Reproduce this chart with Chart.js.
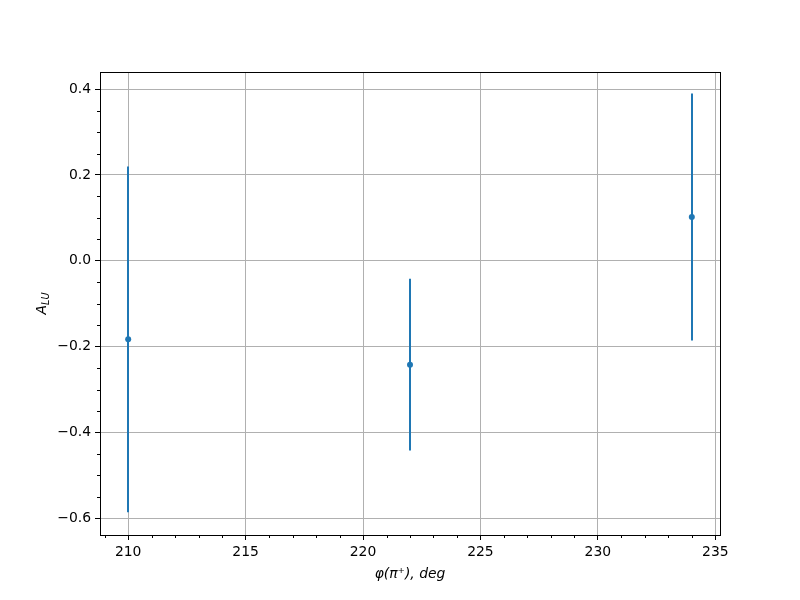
<!DOCTYPE html>
<html>
<head>
<meta charset="utf-8">
<script src="https://cdn.jsdelivr.net/npm/chart.js@4"></script>
<style>
  html, body { margin: 0; padding: 0; background: #fff; }
  #wrap { width: 800px; height: 600px; }
</style>
</head>
<body>
<div id="wrap"><canvas id="chart" width="800" height="600"></canvas></div>
<script>
// measured values
const xValues = [210, 222, 234];
const yValues = [-0.183, -0.242, 0.102];
const yErrors = [0.403, 0.2, 0.288];

const xTicks = [210, 215, 220, 225, 230, 235];
const yTicks = [-0.6, -0.4, -0.2, 0.0, 0.2, 0.4];
const xMinorTicks = [209, 211, 212, 213, 214, 216, 217, 218, 219, 221, 222, 223, 224,
  226, 227, 228, 229, 231, 232, 233, 234];
const yMinorTicks = [-0.55, -0.5, -0.45, -0.35, -0.3, -0.25, -0.15, -0.1, -0.05,
  0.05, 0.1, 0.15, 0.25, 0.3, 0.35];

const BLUE = '#1f77b4';
const FONT = "'DejaVu Sans', sans-serif";

function fmtY(v) {
  const s = Math.abs(v).toFixed(1);
  return v < -1e-9 ? '\u2212' + s : s;
}

// error bars, drawn under the markers
const errorBars = {
  id: 'errorBars',
  beforeDatasetsDraw(chart) {
    const { ctx, scales: { x, y } } = chart;
    ctx.save();
    ctx.strokeStyle = BLUE;
    ctx.lineWidth = 2;
    xValues.forEach((xv, i) => {
      const px = Math.round(x.getPixelForValue(xv));
      ctx.beginPath();
      ctx.moveTo(px, y.getPixelForValue(yValues[i] + yErrors[i]));
      ctx.lineTo(px, y.getPixelForValue(yValues[i] - yErrors[i]));
      ctx.stroke();
    });
    ctx.restore();
  }
};

// frame, minor ticks and axis titles
const frame = {
  id: 'frame',
  afterDraw(chart) {
    const { ctx, chartArea: a, scales: { x, y } } = chart;
    ctx.save();
    ctx.strokeStyle = '#000';
    ctx.lineWidth = 1;
    ctx.strokeRect(Math.round(a.left) + 0.5, Math.round(a.top) + 0.5,
      Math.round(a.right - a.left), Math.round(a.bottom - a.top));

    ctx.beginPath();
    xMinorTicks.forEach(v => {
      const px = Math.round(x.getPixelForValue(v)) + 0.5;
      ctx.moveTo(px, a.bottom);
      ctx.lineTo(px, a.bottom + 3);
    });
    yMinorTicks.forEach(v => {
      const py = Math.round(y.getPixelForValue(v)) + 0.5;
      ctx.moveTo(a.left, py);
      ctx.lineTo(a.left - 3, py);
    });
    ctx.stroke();

    ctx.fillStyle = '#000';
    ctx.textBaseline = 'middle';
    ctx.textAlign = 'center';
    ctx.font = 'italic 13.9px ' + FONT;
    ctx.fillText('\u03c6(\u03c0\u207a), deg', (a.left + a.right) / 2, 574);

    // y title: A with subscript LU
    ctx.translate(42, (a.top + a.bottom) / 2);
    ctx.rotate(-Math.PI / 2);
    ctx.textAlign = 'left';
    ctx.font = 'italic 13.9px ' + FONT;
    const wA = ctx.measureText('A').width;
    ctx.font = 'italic 9.7px ' + FONT;
    const wS = ctx.measureText('LU').width;
    const x0 = -(wA + wS) / 2;
    ctx.font = 'italic 13.9px ' + FONT;
    ctx.fillText('A', x0, 0);
    ctx.font = 'italic 9.7px ' + FONT;
    ctx.fillText('LU', x0 + wA, 4);
    ctx.restore();
  }
};

new Chart(document.getElementById('chart'), {
  type: 'scatter',
  data: {
    datasets: [{
      data: xValues.map((v, i) => ({ x: v, y: yValues[i] })),
      backgroundColor: BLUE,
      borderColor: BLUE,
      borderWidth: 0,
      pointRadius: 3,
      pointHoverRadius: 3
    }]
  },
  options: {
    responsive: false,
    animation: false,
    layout: { padding: { left: 0, top: 72, right: 80, bottom: 0 } },
    plugins: {
      legend: { display: false },
      tooltip: { enabled: false }
    },
    scales: {
      x: {
        type: 'linear',
        min: 208.8,
        max: 235.2,
        afterBuildTicks: s => { s.ticks = xTicks.map(v => ({ value: v })); },
        afterFit: s => { s.height = 65; },
        grid: { color: '#b0b0b0', lineWidth: 1, tickColor: '#000', tickLength: 5 },
        border: { display: false },
        ticks: {
          color: '#000',
          padding: 4,
          maxRotation: 0,
          font: { family: FONT, size: 13.9 },
          callback: v => String(v)
        }
      },
      y: {
        type: 'linear',
        min: -0.639,
        max: 0.44,
        afterBuildTicks: s => { s.ticks = yTicks.map(v => ({ value: v })); },
        afterFit: s => { s.width = 100; },
        grid: { color: '#b0b0b0', lineWidth: 1, tickColor: '#000', tickLength: 5 },
        border: { display: false },
        ticks: {
          color: '#000',
          padding: 4,
          font: { family: FONT, size: 13.9 },
          callback: v => fmtY(v)
        }
      }
    }
  },
  plugins: [errorBars, frame]
});
</script>
</body>
</html>
